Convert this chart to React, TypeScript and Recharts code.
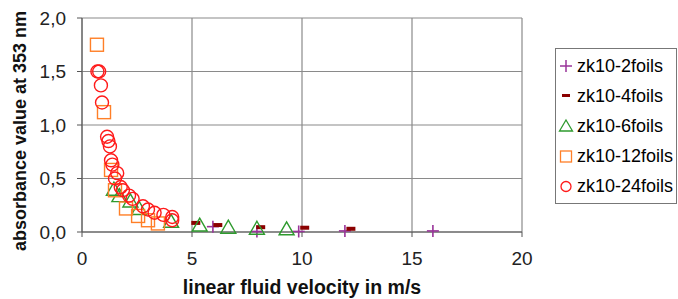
import { ScatterChart, Scatter, XAxis, YAxis, CartesianGrid, Legend } from 'recharts';

// series values: x = velocity (m/s), y = absorbance
const foils2 = [
  { x: 5.95, y: 0.05 }, { x: 7.95, y: 0.005 }, { x: 9.85, y: 0.005 },
  { x: 11.95, y: 0.01 }, { x: 15.95, y: 0.01 },
];
const foils4 = [
  { x: 5.15, y: 0.085 }, { x: 6.15, y: 0.065 }, { x: 8.1, y: 0.045 },
  { x: 10.1, y: 0.04 }, { x: 12.2, y: 0.03 },
];
const foils6 = [
  { x: 1.45, y: 0.4 }, { x: 1.7, y: 0.34 }, { x: 2.2, y: 0.29 }, { x: 2.6, y: 0.22 },
  { x: 4.05, y: 0.1 }, { x: 5.35, y: 0.065 }, { x: 6.65, y: 0.045 },
  { x: 7.95, y: 0.035 }, { x: 9.3, y: 0.03 },
];
const foils12 = [
  { x: 0.68, y: 1.75 }, { x: 1.0, y: 1.12 }, { x: 1.32, y: 0.58 }, { x: 1.5, y: 0.39 },
  { x: 2.0, y: 0.22 }, { x: 2.55, y: 0.15 }, { x: 3.0, y: 0.11 }, { x: 3.45, y: 0.08 },
];
const foils24 = [
  { x: 0.7, y: 1.5 }, { x: 0.78, y: 1.5 }, { x: 0.86, y: 1.37 }, { x: 0.91, y: 1.21 },
  { x: 1.14, y: 0.89 }, { x: 1.2, y: 0.85 }, { x: 1.27, y: 0.8 }, { x: 1.32, y: 0.67 },
  { x: 1.38, y: 0.63 }, { x: 1.6, y: 0.55 }, { x: 1.5, y: 0.5 }, { x: 1.76, y: 0.42 },
  { x: 1.86, y: 0.39 }, { x: 2.14, y: 0.34 }, { x: 2.3, y: 0.31 }, { x: 2.77, y: 0.24 },
  { x: 3.0, y: 0.21 }, { x: 3.3, y: 0.18 }, { x: 3.7, y: 0.16 }, { x: 4.1, y: 0.14 },
  { x: 4.1, y: 0.11 },
];

const xTicks = [0, 5, 10, 15, 20];
const yTicks = [0, 0.5, 1, 1.5, 2];

const PURPLE = '#993399';
const MAROON = '#8b0000';
const GREEN = '#2e9a2e';
const ORANGE = '#ff7f27';
const RED = '#ff1a1a';

const font = '"Liberation Sans", Arial, sans-serif';
const tickStyle = { fill: '#222', fontSize: 19, fontFamily: font };
const titleStyle = { fill: '#111', fontSize: 18, fontWeight: 'bold', fontFamily: font };

function Plus({ cx, cy, color }: any) {
  return (
    <g stroke={color} strokeWidth={1.6}>
      <line x1={cx - 6} y1={cy} x2={cx + 6} y2={cy} />
      <line x1={cx} y1={cy - 6} x2={cx} y2={cy + 6} />
    </g>
  );
}
function Dash({ cx, cy, color }: any) {
  return <rect x={cx - 4} y={cy - 2} width={9} height={4} fill={color} />;
}
function Tri({ cx, cy, color }: any) {
  return <polygon points={`${cx},${cy - 7} ${cx + 7.5},${cy + 6} ${cx - 7.5},${cy + 6}`} fill="none" stroke={color} strokeWidth={1.4} />;
}
function Sq({ cx, cy, color }: any) {
  return <rect x={cx - 6.5} y={cy - 6.5} width={13} height={13} fill="none" stroke={color} strokeWidth={1.4} />;
}
function Circ({ cx, cy, color }: any) {
  return <circle cx={cx} cy={cy} r={6.5} fill="none" stroke={color} strokeWidth={1.4} />;
}

const series = [
  { name: 'zk10-2foils', data: foils2, color: PURPLE, Shape: Plus },
  { name: 'zk10-4foils', data: foils4, color: MAROON, Shape: Dash },
  { name: 'zk10-6foils', data: foils6, color: GREEN, Shape: Tri },
  { name: 'zk10-12foils', data: foils12, color: ORANGE, Shape: Sq },
  { name: 'zk10-24foils', data: foils24, color: RED, Shape: Circ },
];

// small legend glyphs, a bit smaller than the plot markers
function LegendGlyph({ s }: any) {
  if (s.Shape === Dash) return <rect x={6} y={7} width={8} height={3} fill={s.color} />;
  if (s.Shape === Plus)
    return (
      <g stroke={s.color} strokeWidth={1.5}>
        <line x1={4} y1={9} x2={16} y2={9} />
        <line x1={10} y1={3} x2={10} y2={15} />
      </g>
    );
  if (s.Shape === Tri) return <polygon points="10,3 16.5,14 3.5,14" fill="none" stroke={s.color} strokeWidth={1.3} />;
  if (s.Shape === Sq) return <rect x={4.5} y={4} width={11} height={11} fill="none" stroke={s.color} strokeWidth={1.3} />;
  return <circle cx={10} cy={9.5} r={5} fill="none" stroke={s.color} strokeWidth={1.3} />;
}

function LegendBox() {
  return (
    <div style={{ border: '1px solid #777', width: 120, padding: '2px 0', fontFamily: font, fontSize: 18, color: '#000', background: '#fff' }}>
      {series.map((s) => (
        <div key={s.name} style={{ display: 'flex', alignItems: 'center', height: 30, whiteSpace: 'nowrap' }}>
          <svg width={20} height={18} style={{ marginRight: 1, flex: 'none' }}>
            <LegendGlyph s={s} />
          </svg>
          <span>{s.name}</span>
        </div>
      ))}
    </div>
  );
}

export default function App() {
  return (
    <div style={{ position: 'absolute', left: 0, top: 0, width: 678, height: 299, background: '#fff', overflow: 'hidden' }}>
      {/* legend reserves its own width on the right, so the margin only covers the gap */}
      <ScatterChart width={678} height={299} margin={{ top: 18, right: 34, left: 0, bottom: 0 }}>
        <CartesianGrid stroke="#8a8a8a" strokeWidth={1.2} />
        <XAxis
          type="number"
          dataKey="x"
          domain={[0, 20]}
          ticks={xTicks}
          height={67}
          stroke="#555"
          tickSize={5}
          tickMargin={15}
          tick={tickStyle}
          label={{ value: 'linear fluid velocity in m/s', position: 'insideBottom', offset: 5, style: { ...titleStyle, fontSize: 19.5 } }}
        />
        <YAxis
          type="number"
          dataKey="y"
          domain={[0, 2]}
          ticks={yTicks}
          width={82}
          stroke="#555"
          tickSize={5}
          tickMargin={11}
          tick={tickStyle}
          tickFormatter={(v) => v.toFixed(1).replace('.', ',')}
          label={{
            content: () => (
              <text x={20} y={131} transform="rotate(-90 20 131)" textAnchor="middle" dominantBaseline="central" style={titleStyle}>
                absorbance value at 353 nm
              </text>
            ),
          }}
        />
        <Legend
          layout="vertical"
          align="right"
          verticalAlign="top"
          wrapperStyle={{ left: 555, top: 48, width: 122 }}
          content={() => <LegendBox />}
        />
        {series.map((s) => (
          <Scatter
            key={s.name}
            name={s.name}
            data={s.data}
            isAnimationActive={false}
            shape={(p: any) => <s.Shape cx={p.cx} cy={p.cy} color={s.color} />}
          />
        ))}
      </ScatterChart>
    </div>
  );
}
